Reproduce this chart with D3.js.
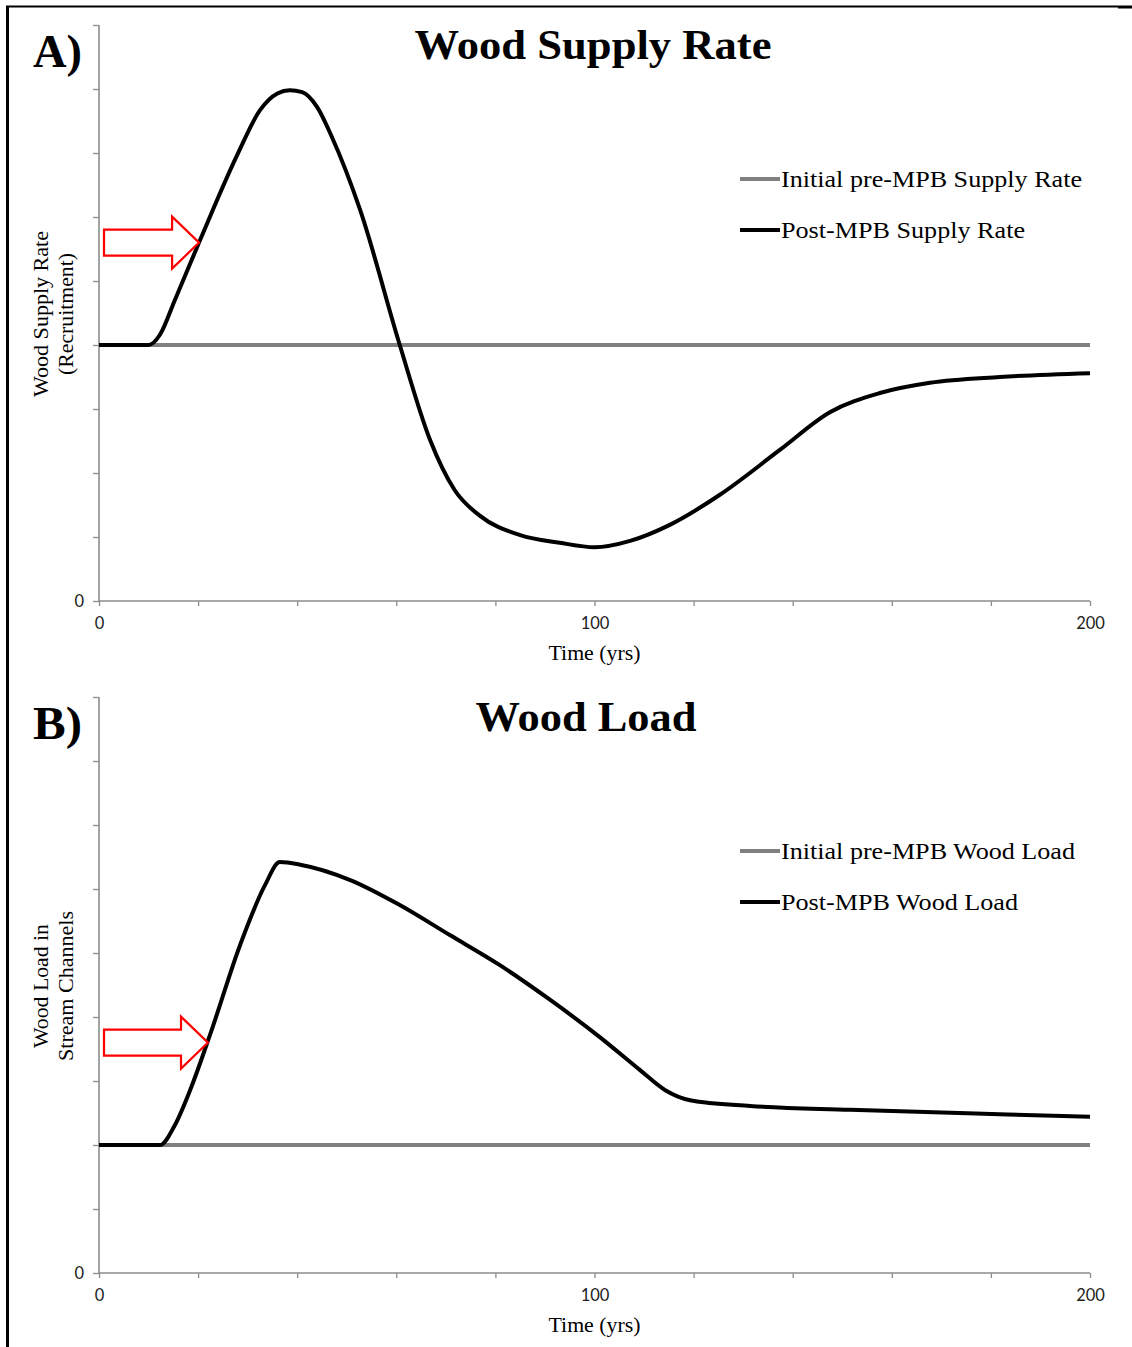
<!DOCTYPE html>
<html lang="en">
<head>
    <meta charset="UTF-8">
    <title>Wood Supply Rate / Wood Load</title>
    <script src="https://cdn.jsdelivr.net/npm/d3@7/dist/d3.min.js"></script>
    <style>
        body { margin: 0; background: #fff; }
    </style>
</head>
<body>

<script>

    const width = 1132;
    const height = 1347;

    // panel A: wood supply rate (arbitrary units, one y tick per unit)
    const supplyYears = [0, 10, 12.3, 15.3, 20.4, 27.9, 32.5, 36, 38.5, 41, 44, 47, 52.7, 60.7, 66.8, 71.8, 76.9, 85, 93, 100, 107.2, 115.2, 125.3, 137.4, 147.5, 157.6, 167.7, 181.8, 200];
    const supplyPost = [4.0, 4.0, 4.16, 4.7, 5.64, 6.97, 7.67, 7.93, 7.98, 7.95, 7.72, 7.25, 6.11, 4.0, 2.52, 1.73, 1.33, 1.03, 0.91, 0.84, 0.94, 1.19, 1.66, 2.36, 2.95, 3.25, 3.41, 3.5, 3.56];
    const supplyInitial = 4.0;

    // panel B: wood load in stream channels
    const loadYears = [0, 12.3, 15.3, 18.4, 22.4, 28.5, 33.5, 36.5, 40.6, 50.7, 60.7, 70.8, 80.9, 91, 101, 109.2, 114.2, 119.3, 131.4, 151.6, 181.8, 200];
    const loadPost = [2.0, 2.0, 2.31, 2.86, 3.72, 5.13, 6.06, 6.42, 6.38, 6.14, 5.75, 5.28, 4.81, 4.27, 3.69, 3.17, 2.86, 2.7, 2.61, 2.55, 2.48, 2.44];
    const loadInitial = 2.0;

    const xTicks = [0, 20, 40, 60, 80, 100, 120, 140, 160, 180, 200];
    const xTickLabels = ["0", "", "", "", "", "100", "", "", "", "", "200"];
    const yTicks = [0, 1, 2, 3, 4, 5, 6, 7, 8, 9];

    const panels = [
        {
            letter: "A)", title: "Wood Supply Rate", titleX: 593, titleLen: 357, top: 25, bottom: 601,
            ylabel: ["Wood Supply Rate", "(Recruitment)"], ylabelLen: [166, 122],
            years: supplyYears, post: supplyPost, initial: supplyInitial,
            legend: ["Initial pre-MPB Supply Rate", "Post-MPB Supply Rate"], legendLen: [301, 244],
            arrow: [20.2, 5.6]
        },
        {
            letter: "B)", title: "Wood Load", titleX: 586, titleLen: 221, top: 697, bottom: 1273,
            ylabel: ["Wood Load in", "Stream Channels"], ylabelLen: [124, 150],
            years: loadYears, post: loadPost, initial: loadInitial,
            legend: ["Initial pre-MPB Wood Load", "Post-MPB Wood Load"], legendLen: [294, 237],
            arrow: [22, 3.6]
        }
    ];

    const serif = "'Liberation Serif', 'Times New Roman', serif";
    const axisColor = "#8c8c8c";

    const svg = d3.select("body").append("svg")
        .attr("width", width)
        .attr("height", height);

    // frame
    svg.append("line").attr("x1", 6).attr("x2", 1118).attr("y1", 6.5).attr("y2", 6.5)
        .attr("stroke", "#000").attr("stroke-width", 2);
    svg.append("line").attr("x1", 1118).attr("x2", 1132).attr("y1", 7).attr("y2", 7)
        .attr("stroke", "#000").attr("stroke-width", 3);
    svg.append("line").attr("x1", 7.5).attr("x2", 7.5).attr("y1", 6).attr("y2", height)
        .attr("stroke", "#000").attr("stroke-width", 3);

    const x = d3.scaleLinear().domain([0, 200]).range([99, 1090]);

    panels.forEach(p => {
        const y = d3.scaleLinear().domain([0, 9]).range([p.bottom, p.top]);
        const g = svg.append("g");

        // axes
        const xAxis = g.append("g")
            .attr("transform", `translate(0,${p.bottom})`)
            .call(d3.axisBottom(x).tickValues(xTicks).tickSize(5).tickPadding(11)
                .tickFormat((d, i) => xTickLabels[i]));
        const yAxis = g.append("g")
            .attr("transform", `translate(${x(0)},0)`)
            .call(d3.axisLeft(y).tickValues(yTicks).tickSize(6).tickPadding(9)
                .tickFormat(d => d === 0 ? "0" : ""));
        [xAxis, yAxis].forEach(a => {
            a.selectAll(".domain").attr("stroke", axisColor).attr("stroke-width", 1.6);
            a.selectAll(".tick line").attr("stroke", axisColor).attr("stroke-width", 1.3);
            a.selectAll("text").attr("font-family", "Lato, 'Open Sans', sans-serif")
                .attr("font-size", 16.5).attr("fill", "#222");
        });
        xAxis.select(".domain").attr("d", `M${x(0)},0H${x(200)}`);
        yAxis.select(".domain").attr("d", `M0,${y(9)}V${y(0)}`);

        g.append("text")
            .attr("x", (x(0) + x(200)) / 2)
            .attr("y", p.bottom + 59)
            .attr("text-anchor", "middle")
            .attr("font-family", serif).attr("font-size", 20)
            .attr("textLength", 92).attr("lengthAdjust", "spacingAndGlyphs")
            .text("Time (yrs)");

        // y label, two lines rotated
        p.ylabel.forEach((t, i) => {
            g.append("text")
                .attr("transform", `translate(${48 + i * 25},${(p.top + p.bottom) / 2 + 1}) rotate(-90)`)
                .attr("text-anchor", "middle")
                .attr("font-family", serif).attr("font-size", 20)
                .attr("textLength", p.ylabelLen[i]).attr("lengthAdjust", "spacingAndGlyphs")
                .text(t);
        });

        // letter and title
        g.append("text")
            .attr("x", 33).attr("y", p.top + 42)
            .attr("font-family", serif).attr("font-weight", "bold").attr("font-size", 46)
            .attr("textLength", 49).attr("lengthAdjust", "spacingAndGlyphs")
            .text(p.letter);
        g.append("text")
            .attr("x", p.titleX).attr("y", p.top + 34)
            .attr("text-anchor", "middle")
            .attr("font-family", serif).attr("font-weight", "bold").attr("font-size", 43)
            .attr("textLength", p.titleLen).attr("lengthAdjust", "spacingAndGlyphs")
            .text(p.title);

        // lines
        g.append("line")
            .attr("x1", x(0)).attr("x2", x(200))
            .attr("y1", y(p.initial)).attr("y2", y(p.initial))
            .attr("stroke", "#808080").attr("stroke-width", 4);

        const line = d3.line()
            .x(d => x(d[0]))
            .y(d => y(d[1]))
            .curve(d3.curveMonotoneX);
        g.append("path")
            .datum(d3.zip(p.years, p.post))
            .attr("fill", "none")
            .attr("stroke", "#000")
            .attr("stroke-width", 4)
            .attr("stroke-linejoin", "round")
            .attr("d", line);

        // legend
        const lx = 740, ly = p.top + 154;
        p.legend.forEach((t, i) => {
            g.append("line")
                .attr("x1", lx).attr("x2", lx + 40)
                .attr("y1", ly + i * 51).attr("y2", ly + i * 51)
                .attr("stroke", i === 0 ? "#808080" : "#000").attr("stroke-width", 4);
            g.append("text")
                .attr("x", lx + 41).attr("y", ly + i * 51 + 8)
                .attr("font-family", serif).attr("font-size", 24)
                .attr("textLength", p.legendLen[i]).attr("lengthAdjust", "spacingAndGlyphs")
                .text(t);
        });

        // red outline arrow pointing at the rising limb
        const tx = x(p.arrow[0]), ty = y(p.arrow[1]);
        const arrowPath = `M${tx},${ty}L${tx - 27},${ty - 26}V${ty - 13}H104V${ty + 13}H${tx - 27}V${ty + 26}Z`;
        g.append("path")
            .attr("d", arrowPath)
            .attr("fill", "#fff")
            .attr("stroke", "#ff0000")
            .attr("stroke-width", 2.2);
    });

</script>

</body>
</html>
